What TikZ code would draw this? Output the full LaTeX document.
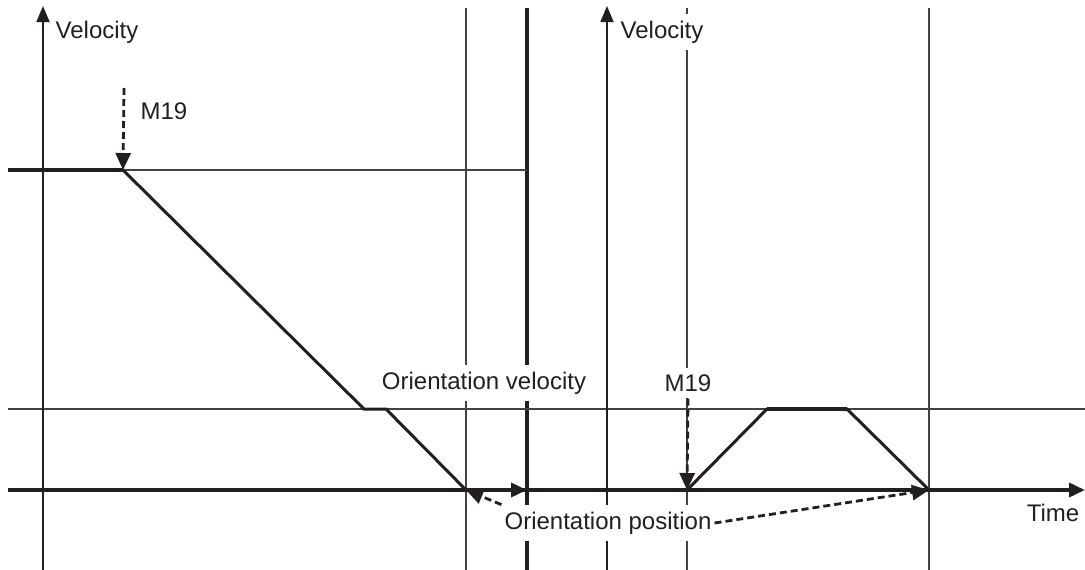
\documentclass[tikz,border=0pt]{standalone}
\usepackage{fontspec}
\setmainfont{Liberation Sans}
\usetikzlibrary{arrows.meta}
\definecolor{ink}{HTML}{231F20}
\begin{document}
\begin{tikzpicture}[x=1pt,y=-1pt,
  every node/.style={font=\fontsize{24}{28}\selectfont, text=ink},
  thinln/.style={draw=ink!85, line width=1.6pt},
  thickln/.style={draw=ink, line width=3.6pt},
  profile/.style={draw=ink, line width=3pt, line join=miter},
  axisln/.style={draw=ink, line width=1.8pt, -{Triangle[length=16pt,width=13pt]}},
  dashln/.style={draw=ink, line width=2.8pt, dash pattern=on 7pt off 4pt, -{Triangle[length=17pt,width=15pt]}},
  tipln/.style={draw=ink, line width=3.6pt, -{Triangle[length=16pt,width=14pt]}},
  lbl/.style={fill=white, inner xsep=3pt, inner ysep=7pt}]
\useasboundingbox (0,0) rectangle (1085,570);

% vertical grid lines
\draw[thinln] (466,8) -- (466,570);
\draw[thickln] (527,8) -- (527,570);
\draw[thinln] (687,8) -- (687,570);
\draw[thinln] (929,8) -- (929,570);

% horizontal reference levels
\draw[thinln] (8,170) -- (527,170);
\draw[thinln] (8,409) -- (1085,409);

% velocity axes
\coordinate (yl0) at (43,570);
\coordinate (yl1) at (43,6);
\coordinate (yr0) at (607,570);
\coordinate (yr1) at (607,6);
\draw[axisln] (yl0) -- (yl1);
\draw[axisln] (yr0) -- (yr1);

% time axis
\coordinate (t0) at (8,490);
\coordinate (t1) at (1085,490);
\draw[thickln, -{Triangle[length=16pt,width=14pt]}] (t0) -- (t1);

% profile points
\coordinate (s0) at (8,170);
\coordinate (m1) at (123,170);
\coordinate (p1) at (364,409);
\coordinate (p2) at (386,409);
\coordinate (z1) at (466,490);
\coordinate (e1) at (527,490);
\coordinate (r0) at (687,490);
\coordinate (r1) at (767,409);
\coordinate (r2) at (847,409);
\coordinate (r3) at (929,490);

% deceleration to orientation stop
\draw[thickln] (s0) -- (m1);
\draw[profile] (m1) -- (p1) -- (p2) -- (z1);
\draw[tipln] (z1) -- (e1);

% orientation move
\draw[profile] (r0) -- (r1) -- (r2) -- (r3);
\draw[thickln] (r1) -- (r2);

% labels
\node (vl) at (97,32) {Velocity};
\node[lbl] (vr) at (662,32) {Velocity};
\node (m19l) at (164,111) {M19};
\node[lbl] (ov) at (484,383) {Orientation velocity};
\node[lbl] (m19r) at (688,383) {M19};
\node[lbl] (op) at (608,523) {Orientation position};
\node (tm) at (1053,513) {Time};

% M19 command markers
\coordinate (m19s) at (124,88);
\draw[dashln] (m19s) -- (m1);
\draw[dashln] (m19r.south) -- (r0);

% orientation position pointers
\draw[dashln] (op.north west) -- (z1);
\draw[dashln] (op.east) -- (r3);
\end{tikzpicture}
\end{document}
